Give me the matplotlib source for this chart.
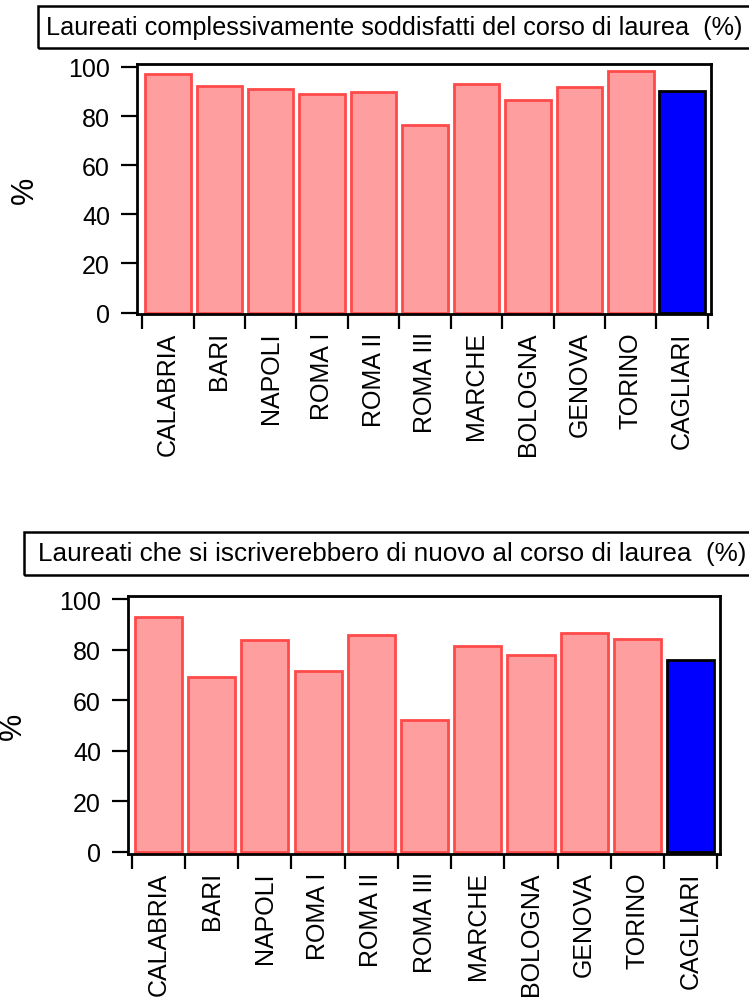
import matplotlib
matplotlib.use("Agg")
import matplotlib.pyplot as plt
from matplotlib.patches import Rectangle

categories = ["CALABRIA", "BARI", "NAPOLI", "ROMA I", "ROMA II", "ROMA III",
              "MARCHE", "BOLOGNA", "GENOVA", "TORINO", "CAGLIARI"]
soddisfatti = [97.1, 92.4, 91.1, 89.0, 89.9, 76.4, 93.2, 86.5, 91.8, 98.2, 90.4]
reiscrizione = [92.9, 69.1, 84.0, 71.5, 85.8, 52.2, 81.4, 78.0, 86.8, 84.4, 76.1]
title_top = "Laureati complessivamente soddisfatti del corso di laurea  (%)"
title_bottom = "Laureati che si iscriverebbero di nuovo al corso di laurea  (%)"
yticks = [0, 20, 40, 60, 80, 100]

plt.rcParams['font.family'] = ['Liberation Sans', 'DejaVu Sans']

W, H = 749, 1003
fig = plt.figure(figsize=(W / 100, H / 100), dpi=100)


def rect(l, t, r, b):
    return [l / W, 1 - b / H, (r - l) / W, (b - t) / H]


def title_box(x0, y0, y1, text, tx, fs):
    fig.patches.append(Rectangle((x0 / W, 1 - y1 / H), (W + 20 - x0) / W, (y1 - y0) / H,
                                 transform=fig.transFigure, fill=False,
                                 edgecolor="black", linewidth=1.8, clip_on=False))
    fig.text(tx / W, 1 - (y0 + y1) / 2 / H, text, fontsize=fs, va="center", ha="left")


def panel(box, values, xlim, ylim, ylabel_x):
    ax = fig.add_axes(rect(*box))
    n = len(categories)
    x = list(range(n))
    colors = ["#FF9E9E"] * (n - 1) + ["#0000FF"]
    edges = ["#FF4A4A"] * (n - 1) + ["black"]
    ax.bar(x, values, width=0.885, color=colors, edgecolor=edges, linewidth=2.0, zorder=2)
    ax.set_xlim(*xlim)
    ax.set_ylim(*ylim)
    ax.set_yticks(yticks)
    ax.set_xticks([i - 0.5 for i in range(n + 1)])
    ax.set_xticklabels([])
    ax.set_xticks(x, minor=True)
    ax.set_xticklabels(categories, minor=True, rotation=90, fontsize=18)
    ax.tick_params(axis="x", which="major", length=11, width=1.6, direction="out")
    ax.tick_params(axis="x", which="minor", length=0, pad=12.5)
    ax.tick_params(axis="y", length=11.5, width=1.6, direction="out", labelsize=18, pad=8)
    for s in ax.spines.values():
        s.set_linewidth(2.0)
    fig.text(ylabel_x / W, 1 - (box[1] + box[3]) / 2 / H, "%", rotation=90,
             fontsize=22, ha="center", va="center")
    return ax


title_box(38, 7, 49, title_top, 46, 18.2)
panel((137, 65, 711, 315), soddisfatti, (-0.6, 10.56), (-0.6, 101.2), 25)

title_box(24, 533, 576, title_bottom, 38, 18.8)
panel((128, 597, 720, 855), reiscrizione, (-0.57, 10.55), (-0.9, 101.3), 13)

fig.savefig("out.png", dpi=100)
